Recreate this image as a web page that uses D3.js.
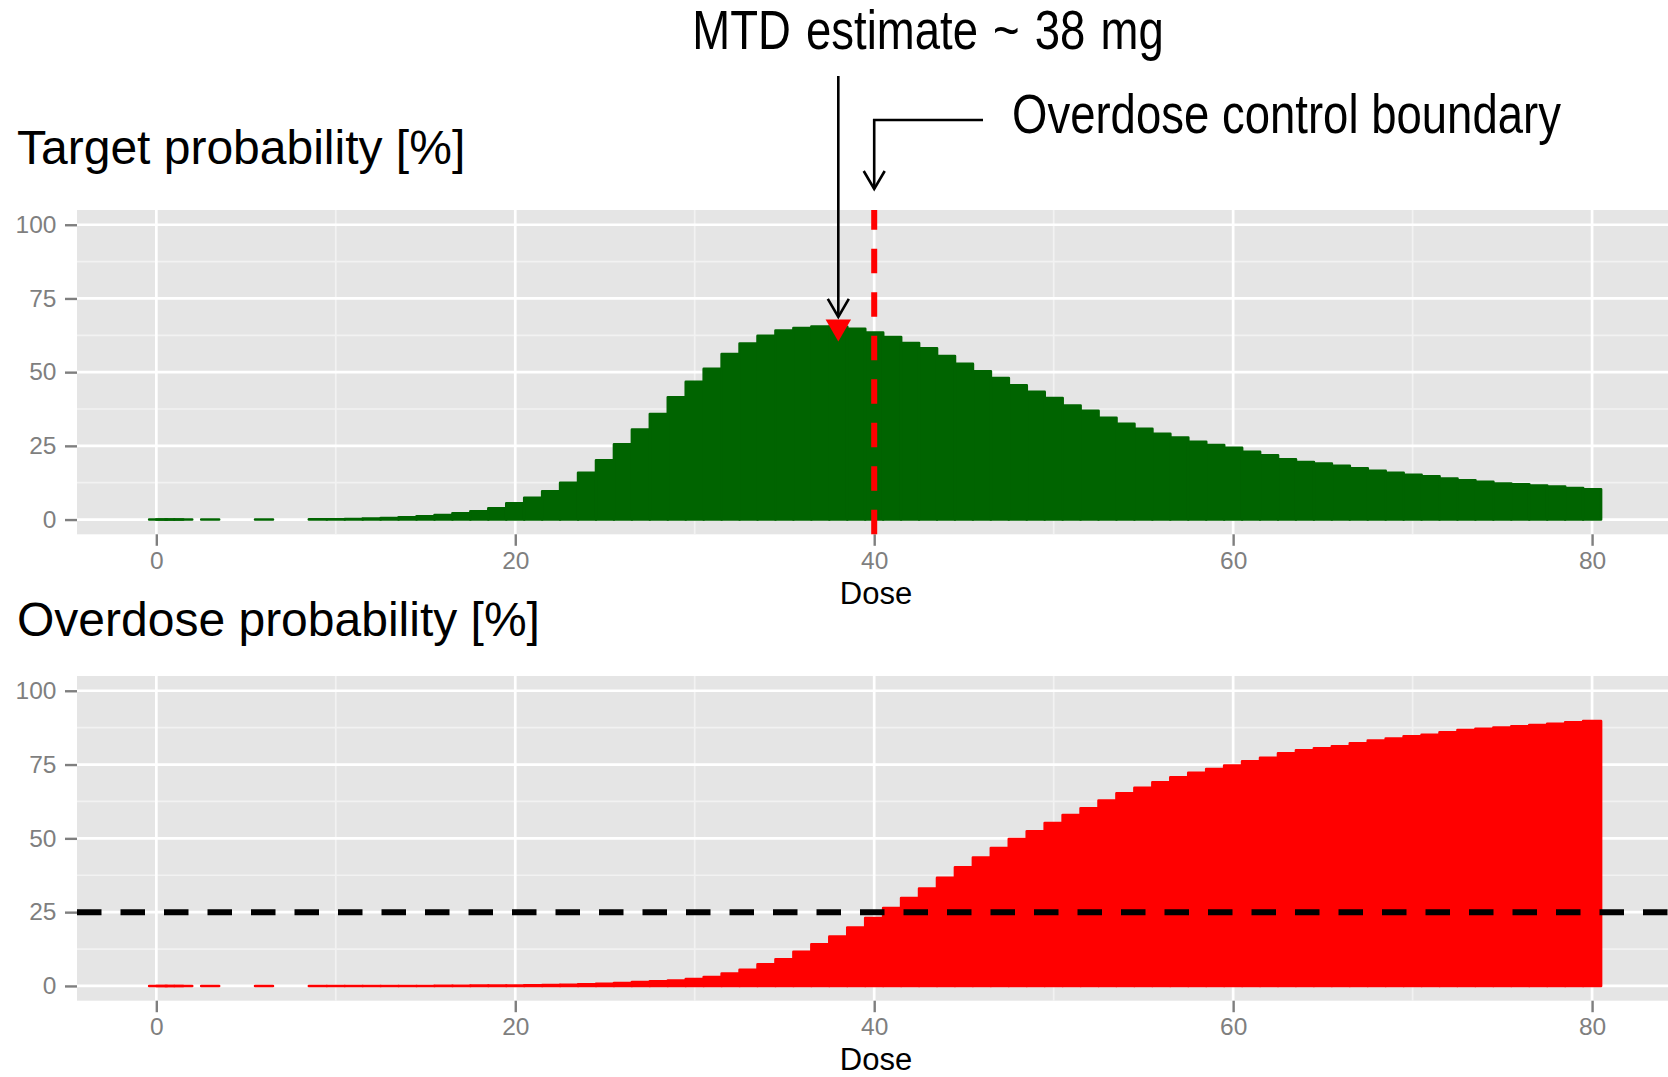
<!DOCTYPE html>
<html>
<head>
<meta charset="utf-8">
<script src="https://d3js.org/d3.v7.min.js"></script>
<style>
  body { margin:0; background:#ffffff; }
  svg { display:block; }
  .axis text { font-family: "Liberation Sans", Arial, sans-serif; font-size: 24.5px; fill: #7f7f7f; }
  .axis line { stroke: #7f7f7f; stroke-width: 2.4px; }
  .axis path.domain { display: none; }
</style>
</head>
<body>
<script>
// dose grid (mg) and posterior probabilities (%) per dose
var doses = [0.1, 0.5, 1, 1.5, 3, 6,
  9, 10, 11, 12, 13, 14, 15, 16, 17, 18, 19, 20, 21, 22,
  23, 24, 25, 26, 27, 28, 29, 30, 31, 32,
  33, 34, 35, 36, 37, 38, 39, 40, 41, 42,
  43, 44, 45, 46, 47, 48, 49, 50, 51, 52,
  53, 54, 55, 56, 57, 58, 59, 60, 61, 62,
  63, 64, 65, 66, 67, 68, 69, 70, 71, 72,
  73, 74, 75, 76, 77, 78, 79, 80];

var targetProb = [0, 0, 0, 0, 0, 0,
  0.05, 0.1, 0.2, 0.35, 0.55, 0.8, 1.1, 1.5, 2.1, 2.8, 3.8, 5.5, 7.4, 9.6,
  12.5, 15.9, 20.1, 25.5, 30.5, 35.8, 41.5, 46.7, 51.1, 56.1,
  59.7, 62.3, 64.1, 65.0, 65.5, 65.4, 64.7, 63.4, 61.9, 59.9,
  58.1, 55.5, 52.8, 50.3, 48.0, 45.5, 43.3, 41.2, 38.7, 36.9,
  34.5, 32.5, 30.8, 29.1, 27.8, 26.4, 25.3, 24.3, 23.0, 21.8,
  20.4, 19.5, 19.0, 18.2, 17.4, 16.5, 15.9, 15.2, 14.7, 13.9,
  13.3, 12.8, 12.2, 12.0, 11.5, 11.2, 10.7, 10.3];

var overdoseProb = [0, 0, 0, 0, 0, 0,
  0, 0, 0, 0, 0, 0, 0, 0.05, 0.05, 0.1, 0.1, 0.15, 0.2, 0.3,
  0.4, 0.55, 0.7, 1.0, 1.3, 1.6, 1.8, 2.3, 3.0, 4.2,
  5.5, 7.3, 9.0, 11.6, 14.1, 16.7, 19.8, 23.0, 26.4, 29.8,
  33.0, 36.6, 40.2, 43.5, 46.7, 49.8, 52.4, 55.2, 57.9, 60.2,
  62.8, 65.3, 67.1, 69.0, 70.7, 72.2, 73.5, 74.7, 76.1, 77.3,
  78.8, 79.8, 80.5, 81.2, 82.2, 83.1, 83.8, 84.6, 85.1, 85.9,
  86.7, 87.1, 87.5, 88.0, 88.4, 88.8, 89.3, 89.7];

var yTicks = [0, 25, 50, 75, 100];
var yMinor = [12.5, 37.5, 62.5, 87.5];
var xTicks = [0, 20, 40, 60, 80];
var xMinor = [10, 30, 50, 70];

var mtdDose = 38, mtdTarget = 65.4;
var boundaryDose = 40;
var overdoseLimit = 25;

var W = 1668, H = 1077;
var svg = d3.select("body").append("svg")
  .attr("width", W).attr("height", H);

var x = d3.scaleLinear().domain([-4.42, 84.62]).range([77, 1675]);

var panels = [
  {title: "Target probability [%]", values: targetProb, color: "#006400", top: 210, bottom: 534.3, titleY: 164},
  {title: "Overdose probability [%]", values: overdoseProb, color: "#ff0000", top: 676, bottom: 1000.7, titleY: 636}
];

panels.forEach(function (p, i) {
  var y = d3.scaleLinear().domain([-5, 105]).range([p.bottom, p.top]);
  p.y = y;
  var g = svg.append("g");

  g.append("rect")
    .attr("x", x.range()[0]).attr("y", p.top)
    .attr("width", x.range()[1] - x.range()[0])
    .attr("height", p.bottom - p.top)
    .attr("fill", "#e5e5e5");

  // minor grid
  g.selectAll(".hmin").data(yMinor).enter().append("line")
    .attr("x1", x.range()[0]).attr("x2", x.range()[1])
    .attr("y1", y).attr("y2", y)
    .attr("stroke", "#f2f2f2").attr("stroke-width", 1.7);
  g.selectAll(".vmin").data(xMinor).enter().append("line")
    .attr("x1", x).attr("x2", x)
    .attr("y1", p.top).attr("y2", p.bottom)
    .attr("stroke", "#f2f2f2").attr("stroke-width", 1.7);
  // major grid
  g.selectAll(".hmaj").data(yTicks).enter().append("line")
    .attr("x1", x.range()[0]).attr("x2", x.range()[1])
    .attr("y1", y).attr("y2", y)
    .attr("stroke", "#ffffff").attr("stroke-width", 2.7);
  g.selectAll(".vmaj").data(xTicks).enter().append("line")
    .attr("x1", x).attr("x2", x)
    .attr("y1", p.top).attr("y2", p.bottom)
    .attr("stroke", "#ffffff").attr("stroke-width", 2.7);

  // bars
  var bars = doses.map(function (d, k) { return {dose: d, value: p.values[k]}; });
  g.selectAll(".bar").data(bars).enter().append("path")
    .attr("d", function (b) {
      var x0 = x(b.dose - 0.5), x1 = x(b.dose + 0.5);
      return "M" + x0 + "," + y(0) + "H" + x1 + "V" + y(b.value) + "H" + x0 + "Z";
    })
    .attr("fill", p.color)
    .attr("stroke", p.color)
    .attr("stroke-width", 2.6)
    .attr("stroke-linejoin", "round")
    .attr("stroke-linecap", "round");

  // axes
  g.append("g").attr("class", "axis")
    .attr("transform", "translate(" + x.range()[0] + ",0)")
    .call(d3.axisLeft(y).tickValues(yTicks).tickSize(12).tickPadding(8.5));
  g.append("g").attr("class", "axis")
    .attr("transform", "translate(0," + p.bottom + ")")
    .call(d3.axisBottom(x).tickValues(xTicks).tickSize(11.5).tickPadding(5.5));

  g.append("text")
    .attr("x", (x.range()[0] + x.range()[1]) / 2)
    .attr("y", p.bottom + 69.3)
    .attr("text-anchor", "middle")
    .style("font-family", "'Liberation Sans', Arial, sans-serif")
    .style("font-size", "31px")
    .text("Dose");

  svg.append("text")
    .attr("x", 17).attr("y", p.titleY)
    .style("font-family", "'Liberation Sans', Arial, sans-serif")
    .style("font-size", "48px")
    .text(p.title);
});

// panel 1: overdose control boundary and MTD marker
var p1 = panels[0], p2 = panels[1];
svg.append("line")
  .attr("x1", x(boundaryDose)).attr("x2", x(boundaryDose))
  .attr("y1", p1.bottom).attr("y2", p1.top)
  .attr("stroke", "#ff0000").attr("stroke-width", 6)
  .attr("stroke-dasharray", "24.5 19");

var r = 14.7;
var mx = x(mtdDose), my = p1.y(mtdTarget);
svg.append("path")
  .attr("d", "M" + mx + "," + (my + r) + "L" + (mx + 0.866 * r) + "," + (my - r / 2) +
    "L" + (mx - 0.866 * r) + "," + (my - r / 2) + "Z")
  .attr("fill", "#ff0000");

// panel 2: 25% overdose limit
svg.append("line")
  .attr("x1", x.range()[0]).attr("x2", x.range()[1])
  .attr("y1", p2.y(overdoseLimit)).attr("y2", p2.y(overdoseLimit))
  .attr("stroke", "#000000").attr("stroke-width", 6)
  .attr("stroke-dasharray", "24.5 19");

// annotations
function arrowHead(tx, ty) {
  return "M" + (tx - 10.5) + "," + (ty - 18) + "L" + tx + "," + ty + "L" + (tx + 10.5) + "," + (ty - 18);
}
var ann = svg.append("g")
  .attr("fill", "none").attr("stroke", "#000").attr("stroke-width", 2.6);

var mtdTip = my - r / 2 - 2.6;
ann.append("path").attr("d", "M" + mx + ",76V" + mtdTip);
ann.append("path").attr("d", arrowHead(mx, mtdTip));

var bx = x(boundaryDose);
ann.append("path").attr("d", "M983,120H" + bx + "V189");
ann.append("path").attr("d", arrowHead(bx, 189));

function narrowText(tx, ty, anchor, str, spacing) {
  svg.append("g")
    .attr("transform", "translate(" + tx + "," + ty + ") scale(0.82,1)")
    .append("text")
    .attr("text-anchor", anchor)
    .style("font-family", "'Liberation Sans', Arial, sans-serif")
    .style("font-size", "55.5px")
    .style("word-spacing", spacing + "px")
    .text(str);
}
narrowText(928, 49, "middle", "MTD estimate ~ " + mtdDose + " mg", 3);
narrowText(1012, 133, "start", "Overdose control boundary", 0);
</script>
</body>
</html>
